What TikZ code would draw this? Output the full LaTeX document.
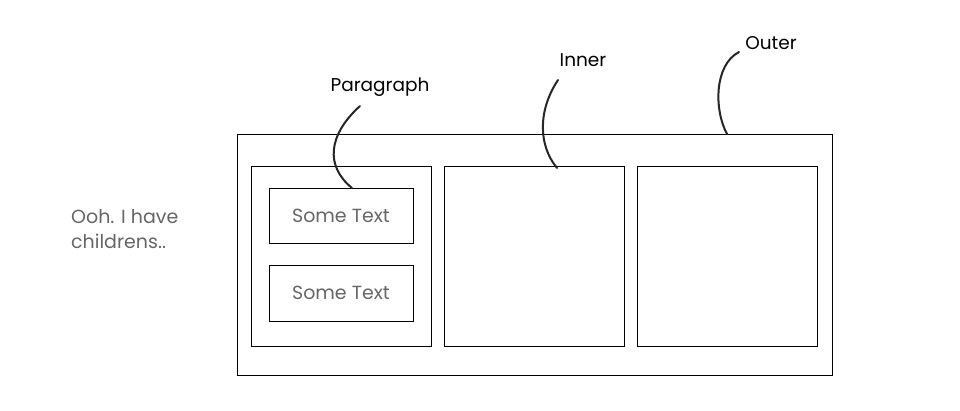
\documentclass[tikz,border=0pt]{standalone}
\usepackage{fontspec}
\setmainfont{Poppins}
\begin{document}
\begin{tikzpicture}[x=1pt,y=-1pt,
  box/.style={draw=black,line width=1pt},
  lbl/.style={font=\fontsize{18.5}{21}\selectfont,text=black,inner sep=1pt},
  gtext/.style={font=\fontsize{19}{22}\selectfont,text=black!60,inner sep=0pt},
  curve/.style={draw=black!85,line width=2pt,line cap=round}]
\useasboundingbox (0,0) rectangle (960,410);
\draw[box] (237,134) rectangle (832,375);
\draw[box] (251,166) rectangle (431,346);
\draw[box] (444,166) rectangle (624,346);
\draw[box] (637,166) rectangle (817,346);
\node[box,minimum width=144pt,minimum height=55pt,inner sep=0pt] (t1) at (341,215.5) {};
\node[box,minimum width=144pt,minimum height=56pt,inner sep=0pt] (t2) at (341,293) {};
\node[gtext] at (t1) {Some Text};
\node[gtext] at (t2) {Some Text};
\node[gtext,align=left,anchor=west,font=\fontsize{19}{25}\selectfont] (ooh) at (71,229) {Ooh. I have\\childrens..};
\node[lbl] (plab) at (380,87) {Paragraph};
\node[lbl] (ilab) at (583,60) {Inner};
\node[lbl] (olab) at (771,43) {Outer};
\coordinate (pend) at (352,188);
\coordinate (iend) at (557,168);
\coordinate (oend) at (727,134);
\draw[curve] (360,106) .. controls (328,135) and (325,166) .. (pend);
\draw[curve] (558,80) .. controls (538,110) and (538,145) .. (iend);
\draw[curve] (739,52) .. controls (714,65) and (714,110) .. (oend);
\end{tikzpicture}
\end{document}
